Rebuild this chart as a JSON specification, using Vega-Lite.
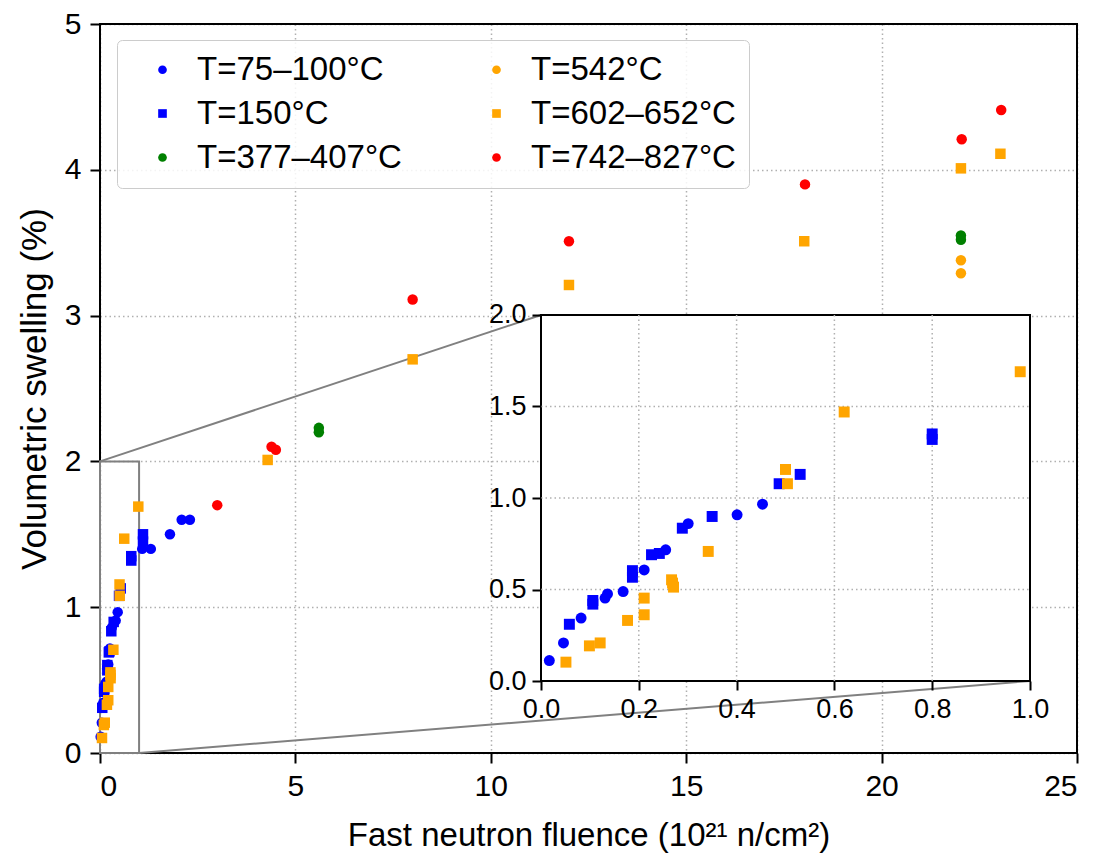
{
  "$schema": "https://vega.github.io/schema/vega-lite/v6.json",
  "width": 977,
  "height": 729,
  "autosize": {"type": "none"},
  "padding": {"left": 100, "top": 24, "right": 22, "bottom": 106},
  "background": "white",
  "config": {
    "font": "Liberation Sans",
    "view": {"stroke": null},
    "axis": {
      "domain": false,
      "tickColor": "black",
      "tickWidth": 2,
      "tickSize": 10,
      "labelFont": "Liberation Sans",
      "labelFontSize": 30,
      "labelColor": "black",
      "titleFont": "Liberation Sans",
      "titleFontSize": 33,
      "titleFontWeight": "normal",
      "titleColor": "black",
      "gridColor": "#b0b0b0",
      "gridDash": [1.5, 3],
      "gridWidth": 1.5
    },
    "axisX": {"labelPadding": 8, "titlePadding": 18},
    "axisY": {"labelPadding": 9, "titlePadding": 12, "titleFontSize": 35},
    "legend": {
      "labelFont": "Liberation Sans",
      "labelFontSize": 33,
      "labelColor": "black",
      "labelLimit": 500
    }
  },
  "datasets": {
    "pts": [
      {"fluence": 0.017, "swelling": 0.112, "group": "T=75–100°C"},
      {"fluence": 0.046, "swelling": 0.208, "group": "T=75–100°C"},
      {"fluence": 0.082, "swelling": 0.344, "group": "T=75–100°C"},
      {"fluence": 0.131, "swelling": 0.453, "group": "T=75–100°C"},
      {"fluence": 0.136, "swelling": 0.476, "group": "T=75–100°C"},
      {"fluence": 0.168, "swelling": 0.489, "group": "T=75–100°C"},
      {"fluence": 0.211, "swelling": 0.607, "group": "T=75–100°C"},
      {"fluence": 0.255, "swelling": 0.717, "group": "T=75–100°C"},
      {"fluence": 0.301, "swelling": 0.86, "group": "T=75–100°C"},
      {"fluence": 0.401, "swelling": 0.908, "group": "T=75–100°C"},
      {"fluence": 0.453, "swelling": 0.966, "group": "T=75–100°C"},
      {"fluence": 1.08, "swelling": 1.4, "group": "T=75–100°C"},
      {"fluence": 1.3, "swelling": 1.4, "group": "T=75–100°C"},
      {"fluence": 1.79, "swelling": 1.5, "group": "T=75–100°C"},
      {"fluence": 2.09, "swelling": 1.6, "group": "T=75–100°C"},
      {"fluence": 2.3, "swelling": 1.6, "group": "T=75–100°C"},
      {"fluence": 0.058, "swelling": 0.31, "group": "T=150°C"},
      {"fluence": 0.106, "swelling": 0.44, "group": "T=150°C"},
      {"fluence": 0.106, "swelling": 0.42, "group": "T=150°C"},
      {"fluence": 0.187, "swelling": 0.603, "group": "T=150°C"},
      {"fluence": 0.187, "swelling": 0.567, "group": "T=150°C"},
      {"fluence": 0.226, "swelling": 0.69, "group": "T=150°C"},
      {"fluence": 0.242, "swelling": 0.697, "group": "T=150°C"},
      {"fluence": 0.289, "swelling": 0.835, "group": "T=150°C"},
      {"fluence": 0.35, "swelling": 0.899, "group": "T=150°C"},
      {"fluence": 0.487, "swelling": 1.078, "group": "T=150°C"},
      {"fluence": 0.53, "swelling": 1.129, "group": "T=150°C"},
      {"fluence": 0.8, "swelling": 1.32, "group": "T=150°C"},
      {"fluence": 0.8, "swelling": 1.35, "group": "T=150°C"},
      {"fluence": 1.1, "swelling": 1.5, "group": "T=150°C"},
      {"fluence": 1.1, "swelling": 1.45, "group": "T=150°C"},
      {"fluence": 5.6, "swelling": 2.2, "group": "T=377–407°C"},
      {"fluence": 5.6, "swelling": 2.23, "group": "T=377–407°C"},
      {"fluence": 22.03, "swelling": 3.52, "group": "T=377–407°C"},
      {"fluence": 22.03, "swelling": 3.55, "group": "T=377–407°C"},
      {"fluence": 22.03, "swelling": 3.38, "group": "T=542°C"},
      {"fluence": 22.03, "swelling": 3.29, "group": "T=542°C"},
      {"fluence": 0.051, "swelling": 0.103, "group": "T=602–652°C"},
      {"fluence": 0.099, "swelling": 0.192, "group": "T=602–652°C"},
      {"fluence": 0.121, "swelling": 0.208, "group": "T=602–652°C"},
      {"fluence": 0.177, "swelling": 0.331, "group": "T=602–652°C"},
      {"fluence": 0.211, "swelling": 0.362, "group": "T=602–652°C"},
      {"fluence": 0.211, "swelling": 0.453, "group": "T=602–652°C"},
      {"fluence": 0.267, "swelling": 0.553, "group": "T=602–652°C"},
      {"fluence": 0.269, "swelling": 0.535, "group": "T=602–652°C"},
      {"fluence": 0.271, "swelling": 0.513, "group": "T=602–652°C"},
      {"fluence": 0.342, "swelling": 0.708, "group": "T=602–652°C"},
      {"fluence": 0.5, "swelling": 1.156, "group": "T=602–652°C"},
      {"fluence": 0.504, "swelling": 1.078, "group": "T=602–652°C"},
      {"fluence": 0.62, "swelling": 1.47, "group": "T=602–652°C"},
      {"fluence": 0.98, "swelling": 1.69, "group": "T=602–652°C"},
      {"fluence": 4.29, "swelling": 2.01, "group": "T=602–652°C"},
      {"fluence": 8.0, "swelling": 2.7, "group": "T=602–652°C"},
      {"fluence": 12.0, "swelling": 3.21, "group": "T=602–652°C"},
      {"fluence": 18.02, "swelling": 3.51, "group": "T=602–652°C"},
      {"fluence": 22.03, "swelling": 4.01, "group": "T=602–652°C"},
      {"fluence": 23.04, "swelling": 4.11, "group": "T=602–652°C"},
      {"fluence": 3.0, "swelling": 1.7, "group": "T=742–827°C"},
      {"fluence": 4.39, "swelling": 2.1, "group": "T=742–827°C"},
      {"fluence": 4.5, "swelling": 2.08, "group": "T=742–827°C"},
      {"fluence": 8.0, "swelling": 3.11, "group": "T=742–827°C"},
      {"fluence": 12.0, "swelling": 3.51, "group": "T=742–827°C"},
      {"fluence": 18.04, "swelling": 3.9, "group": "T=742–827°C"},
      {"fluence": 22.05, "swelling": 4.21, "group": "T=742–827°C"},
      {"fluence": 23.06, "swelling": 4.41, "group": "T=742–827°C"}
    ],
    "frame": [{"x0": 0, "x1": 25, "y0": 0, "y1": 5}],
    "zoombox": [{"x0": 0, "x1": 1, "y0": 0, "y1": 2}],
    "connectors": [
      {"xa": 0, "ya": 2, "xb": 11.285, "yb": 3.004},
      {"xa": 1, "ya": 0, "xb": 23.8, "yb": 0.494}
    ],
    "insetGridX": [{"g": 0.2}, {"g": 0.4}, {"g": 0.6}, {"g": 0.8}],
    "insetGridY": [{"g": 0.5}, {"g": 1.0}, {"g": 1.5}]
  },
  "layer": [
    {
      "layer": [
        {
          "data": {"name": "frame"},
          "mark": {"type": "rect", "fill": null, "stroke": "black", "strokeWidth": 2},
          "encoding": {
            "x": {"field": "x0", "type": "quantitative", "scale": {"domain": [0, 25], "nice": false, "zero": false},
                  "title": "Fast neutron fluence (10²¹ n/cm²)",
                  "axis": {"values": [0, 5, 10, 15, 20, 25], "grid": true}},
            "x2": {"field": "x1"},
            "y": {"field": "y0", "type": "quantitative", "scale": {"domain": [0, 5], "nice": false, "zero": false},
                  "title": "Volumetric swelling (%)",
                  "axis": {"values": [0, 1, 2, 3, 4, 5], "grid": true}},
            "y2": {"field": "y1"}
          }
        },
        {
          "data": {"name": "zoombox"},
          "mark": {"type": "rect", "fill": null, "stroke": "#808080", "strokeWidth": 2},
          "encoding": {
            "x": {"field": "x0", "type": "quantitative",
                  "title": "Fast neutron fluence (10²¹ n/cm²)",
                  "axis": {"values": [0, 5, 10, 15, 20, 25], "grid": true}},
            "x2": {"field": "x1"},
            "y": {"field": "y0", "type": "quantitative",
                  "title": "Volumetric swelling (%)",
                  "axis": {"values": [0, 1, 2, 3, 4, 5], "grid": true}},
            "y2": {"field": "y1"}
          }
        },
        {
          "data": {"name": "connectors"},
          "mark": {"type": "rule", "stroke": "#808080", "strokeWidth": 2},
          "encoding": {
            "x": {"field": "xa", "type": "quantitative", "title": "Fast neutron fluence (10²¹ n/cm²)",
                  "axis": {"values": [0, 5, 10, 15, 20, 25], "grid": true}},
            "x2": {"field": "xb"},
            "y": {"field": "ya", "type": "quantitative", "title": "Volumetric swelling (%)",
                  "axis": {"values": [0, 1, 2, 3, 4, 5], "grid": true}},
            "y2": {"field": "yb"}
          }
        },
        {
          "data": {"name": "pts"},
          "mark": {"type": "point", "filled": true, "opacity": 1, "size": 110},
          "encoding": {
            "x": {"field": "fluence", "type": "quantitative", "title": "Fast neutron fluence (10²¹ n/cm²)",
                  "axis": {"values": [0, 5, 10, 15, 20, 25], "grid": true}},
            "y": {"field": "swelling", "type": "quantitative", "title": "Volumetric swelling (%)",
                  "axis": {"values": [0, 1, 2, 3, 4, 5], "grid": true}},
            "color": {
              "field": "group", "type": "nominal",
              "scale": {
                "domain": ["T=75–100°C", "T=150°C", "T=377–407°C", "T=542°C", "T=602–652°C", "T=742–827°C"],
                "range": ["#0000ff", "#0000ff", "#008000", "#ffa500", "#ffa500", "#ff0000"]
              },
              "legend": {
                "title": null,
                "orient": "none",
                "legendX": 17,
                "legendY": 16,
                "columns": 2,
                "columnPadding": 62,
                "rowPadding": 10,
                "padding": 13,
                "symbolOffset": 16,
                "labelOffset": 18,
                "symbolSize": 75,
                "strokeColor": "#cccccc",
                "fillColor": "rgba(255,255,255,0.85)",
                "cornerRadius": 5,
                "symbolStrokeWidth": 0
              }
            },
            "shape": {
              "field": "group", "type": "nominal",
              "scale": {
                "domain": ["T=75–100°C", "T=150°C", "T=377–407°C", "T=542°C", "T=602–652°C", "T=742–827°C"],
                "range": ["circle", "square", "circle", "circle", "square", "circle"]
              }
            }
          }
        }
      ]
    },
    {
      "layer": [
        {
          "data": {"name": "zoombox"},
          "mark": {"type": "rect", "fill": "white", "stroke": "black", "strokeWidth": 2},
          "encoding": {
            "x": {"field": "x0", "type": "quantitative", "scale": {"domain": [-0.90184, 1.09611], "nice": false, "zero": false}, "title": null,
                  "axis": {"orient": "bottom", "offset": -72, "values": [0, 0.2, 0.4, 0.6, 0.8, 1.0], "format": ".1f", "grid": false, "zindex": 1, "labelFontSize": 27, "labelPadding": 6, "tickSize": 9}},
            "x2": {"field": "x1"},
            "y": {"field": "y0", "type": "quantitative", "scale": {"domain": [-0.39344, 3.59016], "nice": false, "zero": false}, "title": null,
                  "axis": {"orient": "left", "offset": -441, "values": [0, 0.5, 1.0, 1.5, 2.0], "format": ".1f", "grid": false, "zindex": 1, "labelFontSize": 27, "labelPadding": 6, "tickSize": 9}},
            "y2": {"field": "y1"}
          }
        },
        {
          "data": {"name": "insetGridX"},
          "mark": {"type": "rule", "stroke": "#b0b0b0", "strokeWidth": 1.5, "strokeDash": [1.5, 3]},
          "encoding": {
            "x": {"field": "g", "type": "quantitative", "title": null,
                  "axis": {"orient": "bottom", "offset": -72, "values": [0, 0.2, 0.4, 0.6, 0.8, 1.0], "format": ".1f", "grid": false, "zindex": 1, "labelFontSize": 27, "labelPadding": 6, "tickSize": 9}},
            "y": {"datum": 0, "type": "quantitative", "title": null,
                  "axis": {"orient": "left", "offset": -441, "values": [0, 0.5, 1.0, 1.5, 2.0], "format": ".1f", "grid": false, "zindex": 1, "labelFontSize": 27, "labelPadding": 6, "tickSize": 9}},
            "y2": {"datum": 2}
          }
        },
        {
          "data": {"name": "insetGridY"},
          "mark": {"type": "rule", "stroke": "#b0b0b0", "strokeWidth": 1.5, "strokeDash": [1.5, 3]},
          "encoding": {
            "y": {"field": "g", "type": "quantitative", "title": null,
                  "axis": {"orient": "left", "offset": -441, "values": [0, 0.5, 1.0, 1.5, 2.0], "format": ".1f", "grid": false, "zindex": 1, "labelFontSize": 27, "labelPadding": 6, "tickSize": 9}},
            "x": {"datum": 0, "type": "quantitative", "title": null,
                  "axis": {"orient": "bottom", "offset": -72, "values": [0, 0.2, 0.4, 0.6, 0.8, 1.0], "format": ".1f", "grid": false, "zindex": 1, "labelFontSize": 27, "labelPadding": 6, "tickSize": 9}},
            "x2": {"datum": 1}
          }
        },
        {
          "data": {"name": "pts"},
          "transform": [{"filter": "datum.fluence <= 1 && datum.swelling <= 2"}],
          "mark": {"type": "point", "filled": true, "opacity": 1, "size": 120},
          "encoding": {
            "x": {"field": "fluence", "type": "quantitative", "title": null,
                  "axis": {"orient": "bottom", "offset": -72, "values": [0, 0.2, 0.4, 0.6, 0.8, 1.0], "format": ".1f", "grid": false, "zindex": 1, "labelFontSize": 27, "labelPadding": 6, "tickSize": 9}},
            "y": {"field": "swelling", "type": "quantitative", "title": null,
                  "axis": {"orient": "left", "offset": -441, "values": [0, 0.5, 1.0, 1.5, 2.0], "format": ".1f", "grid": false, "zindex": 1, "labelFontSize": 27, "labelPadding": 6, "tickSize": 9}},
            "color": {"field": "group", "type": "nominal", "legend": null},
            "shape": {"field": "group", "type": "nominal", "legend": null}
          }
        }
      ]
    }
  ],
  "resolve": {"scale": {"x": "independent", "y": "independent"}}
}
